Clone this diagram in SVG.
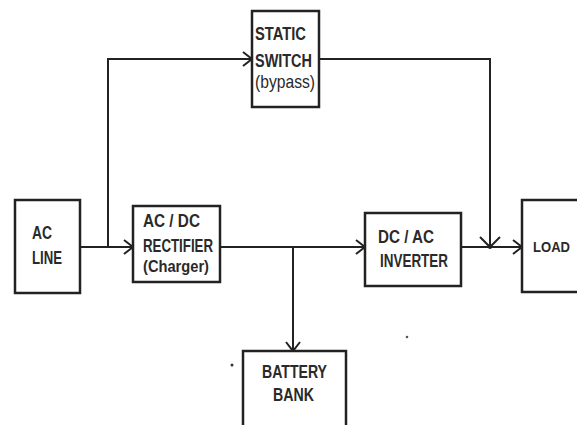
<svg xmlns="http://www.w3.org/2000/svg" width="577" height="425" viewBox="0 0 577 425">
<defs>
<style>
.box{fill:#fff;stroke:#222;stroke-width:2.5}
.wire{fill:none;stroke:#222;stroke-width:2}
.lbl{font-family:"Liberation Sans",Arial,sans-serif;font-weight:bold;font-size:18.5px;fill:#2a2a2a}
</style>
<marker id="arr" markerUnits="userSpaceOnUse" markerWidth="24" markerHeight="24" viewBox="-12 -12 24 24" refX="0" refY="0" orient="auto">
<path d="M-9,-7 L0,0 L-9,7" fill="none" stroke="#222" stroke-width="2"/>
</marker>
<marker id="arrw" markerUnits="userSpaceOnUse" markerWidth="24" markerHeight="24" viewBox="-12 -12 24 24" refX="0" refY="0" orient="auto">
<path d="M-10,-10 L0,0 L-10,10" fill="none" stroke="#222" stroke-width="2"/>
</marker>
</defs>
<rect width="577" height="425" fill="#fff"/>
<g id="connectors">
<path class="wire" d="M80,247 H133" marker-end="url(#arr)"/>
<path class="wire" d="M108,247 V59 H252" marker-end="url(#arr)"/>
<path class="wire" d="M319,59 H490 V247" marker-end="url(#arrw)"/>
<path class="wire" d="M220,247 H365" marker-end="url(#arr)"/>
<path class="wire" d="M293,247 V351" marker-end="url(#arr)"/>
<path class="wire" d="M461,247 H522" marker-end="url(#arr)"/>
<circle cx="490" cy="247" r="2" fill="#222"/>
</g>
<g id="static-switch">
<rect class="box" x="252" y="11" width="67" height="96"/>
<text class="lbl" x="255" y="40" textLength="51" lengthAdjust="spacingAndGlyphs">STATIC</text>
<text class="lbl" x="255" y="67" textLength="57" lengthAdjust="spacingAndGlyphs">SWITCH</text>
<text class="lbl" x="255" y="88" textLength="60" lengthAdjust="spacingAndGlyphs" style="font-weight:normal">(bypass)</text>
</g>
<g id="ac-line">
<rect class="box" x="15" y="200" width="65" height="93"/>
<text class="lbl" x="32" y="239" textLength="20" lengthAdjust="spacingAndGlyphs">AC</text>
<text class="lbl" x="32" y="264" textLength="30" lengthAdjust="spacingAndGlyphs">LINE</text>
</g>
<g id="rectifier">
<rect class="box" x="133" y="206" width="87" height="76"/>
<text class="lbl" x="143" y="227" textLength="57" lengthAdjust="spacingAndGlyphs">AC / DC</text>
<text class="lbl" x="143" y="252" textLength="70" lengthAdjust="spacingAndGlyphs">RECTIFIER</text>
<text class="lbl" x="143" y="272" textLength="66" lengthAdjust="spacingAndGlyphs" style="font-size:16px">(Charger)</text>
</g>
<g id="inverter">
<rect class="box" x="365" y="213" width="96" height="73"/>
<text class="lbl" x="378" y="243" textLength="56" lengthAdjust="spacingAndGlyphs">DC / AC</text>
<text class="lbl" x="380" y="267" textLength="68" lengthAdjust="spacingAndGlyphs">INVERTER</text>
</g>
<g id="load">
<rect class="box" x="522" y="200" width="70" height="92"/>
<text class="lbl" x="533" y="252" textLength="37" lengthAdjust="spacingAndGlyphs" style="font-size:15px">LOAD</text>
</g>
<g id="battery-bank">
<rect class="box" x="243" y="351" width="103" height="90"/>
<text class="lbl" x="262" y="378" textLength="65" lengthAdjust="spacingAndGlyphs">BATTERY</text>
<text class="lbl" x="273" y="401" textLength="41" lengthAdjust="spacingAndGlyphs">BANK</text>
</g>
<circle cx="232" cy="365" r="1.5" fill="#333"/>
<circle cx="407" cy="337" r="1.3" fill="#555"/>
</svg>
